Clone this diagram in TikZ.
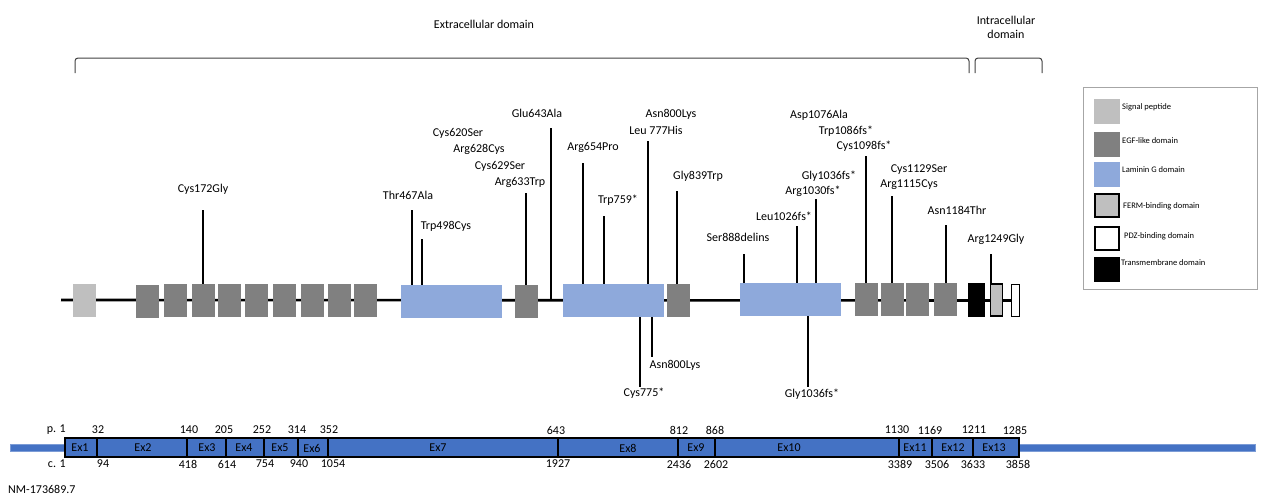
\documentclass[tikz,border=0pt]{standalone}
\usepackage{fontspec}
\setmainfont{Carlito}
\definecolor{sigpep}{HTML}{BFBFBF}
\definecolor{egfgray}{HTML}{808080}
\definecolor{lamblue}{HTML}{8EA9DB}
\definecolor{exonblue}{HTML}{4472C4}
\definecolor{legendline}{HTML}{A6A6A6}
\begin{document}
\begin{tikzpicture}[x=1pt,y=-1pt,
        lbl/.style={font=\fontsize{12}{14}\selectfont,inner sep=0pt},
        leglbl/.style={font=\fontsize{8.5}{10}\selectfont,inner sep=0pt,anchor=west},
        box/.style={rectangle,inner sep=0pt,minimum height=33pt},
        sig/.style={box,fill=sigpep,minimum width=23pt},
        egf/.style={box,fill=egfgray,minimum width=23pt},
        lam/.style={box,fill=lamblue,minimum width=101pt},
        tm/.style={box,fill=black,minimum width=17pt,minimum height=34pt},
        ferm/.style={box,fill=sigpep,draw=black,line width=1.5pt,minimum width=12pt,minimum height=32pt},
        pdz/.style={box,fill=white,draw=black,line width=1.5pt,minimum width=8pt,minimum height=32pt},
        swatch/.style={rectangle,inner sep=0pt,minimum width=26pt,minimum height=25pt},
        stem/.style={line width=1.6pt},
        backbone/.style={line width=2.6pt},
        brace/.style={line width=1pt,draw=black!75,rounded corners=3pt},
        exon/.style={rectangle,inner sep=0pt,fill=exonblue,draw=black,line width=1.3pt,minimum height=19pt},
        utr/.style={rectangle,inner sep=0pt,fill=exonblue,draw=exonblue!70,line width=0.5pt,minimum height=7pt}]
      \useasboundingbox (0,0) rectangle (1262,498);
      % domain brackets
      \draw[brace] (75,73) -- (75,58) -- (969,58) -- (969,73);
      \draw[brace] (975,73) -- (975,58) -- (1042,58) -- (1042,73);
      \node (extra) at (484,24) [lbl] {Extracellular domain};
      \node (intra) at (1006,27) [lbl,align=center] {Intracellular\\domain};
      % protein backbone
      \coordinate (start) at (61,300);
      \node (pdz) at (1015.5,300.5) [pdz] {};
      \draw[backbone] (start) -- (pdz.west);
      \node (sp) at (84.5,300.5) [sig] {};
      \node (e1) at (147.5,301) [egf] {};
      \node (e2) at (175.5,300.5) [egf] {};
      \node (e3) at (203.5,300.5) [egf] {};
      \node (e4) at (229.5,300.5) [egf] {};
      \node (e5) at (256.5,300.5) [egf] {};
      \node (e6) at (284.5,300.5) [egf] {};
      \node (e7) at (312.5,300.5) [egf] {};
      \node (e8) at (339.5,300.5) [egf] {};
      \node (e9) at (365.5,300.5) [egf] {};
      \node (lam1) at (451.5,301.5) [lam] {};
      \node (e10) at (526.5,301.5) [egf] {};
      \node (lam2) at (613.5,300.5) [lam] {};
      \node (e11) at (678.5,300.5) [egf] {};
      \node (lam3) at (790.5,299.5) [lam] {};
      \node (e12) at (866.5,299.5) [egf] {};
      \node (e13) at (892.5,299.5) [egf] {};
      \node (e14) at (917.5,299.5) [egf] {};
      \node (e15) at (945.5,299.5) [egf] {};
      \node (tmd) at (976.5,300) [tm] {};
      \node (ferm) at (996.5,300) [ferm] {};
      % variants above
      \coordinate (s172) at (203,210);
      \coordinate (s467) at (412,210);
      \coordinate (s498) at (422,239);
      \coordinate (s633) at (526,193);
      \coordinate (s643) at (551,128);
      \coordinate (s654) at (583,163);
      \coordinate (s759) at (604,216);
      \coordinate (s777) at (648,141);
      \coordinate (s839) at (677,191);
      \coordinate (s888) at (744,254);
      \coordinate (s1026) at (797,226);
      \coordinate (s1030) at (816,199);
      \coordinate (s1098) at (866,156);
      \coordinate (s1115) at (892,196);
      \coordinate (s1184) at (946,225);
      \coordinate (s1249) at (991,254);
      \draw[stem] (s172) -- (s172 |- e3.north);
      \draw[stem] (s467) -- (s467 |- lam1.north);
      \draw[stem] (s498) -- (s498 |- lam1.north);
      \draw[stem] (s633) -- (s633 |- e10.north);
      \draw[stem] (s643) -- (s643 |- start);
      \draw[stem] (s654) -- (s654 |- lam2.north);
      \draw[stem] (s759) -- (s759 |- lam2.north);
      \draw[stem] (s777) -- (s777 |- lam2.north);
      \draw[stem] (s839) -- (s839 |- e11.north);
      \draw[stem] (s888) -- (s888 |- lam3.north);
      \draw[stem] (s1026) -- (s1026 |- lam3.north);
      \draw[stem] (s1030) -- (s1030 |- lam3.north);
      \draw[stem] (s1098) -- (s1098 |- e12.north);
      \draw[stem] (s1115) -- (s1115 |- e13.north);
      \draw[stem] (s1184) -- (s1184 |- e15.north);
      \draw[stem] (s1249) -- (s1249 |- ferm.north);
      % variants below
      \coordinate (s775) at (640,387);
      \coordinate (s800) at (652,357);
      \coordinate (s1036) at (808,387);
      \draw[stem] (lam2.south -| s775) -- (s775);
      \draw[stem] (lam2.south -| s800) -- (s800);
      \draw[stem] (lam3.south -| s1036) -- (s1036);
      % variant labels
      \node (v172) at (203,189) [lbl] {Cys172Gly};
      \node (v467) at (408,195) [lbl] {Thr467Ala};
      \node (v498) at (446,226) [lbl] {Trp498Cys};
      \node (v620) at (458,133) [lbl] {Cys620Ser};
      \node (v628) at (479,149) [lbl] {Arg628Cys};
      \node (v629) at (500,166) [lbl] {Cys629Ser};
      \node (v633) at (520,182) [lbl] {Arg633Trp};
      \node (v643) at (537,113) [lbl] {Glu643Ala};
      \node (v654) at (593,147) [lbl] {Arg654Pro};
      \node (v759) at (618,200) [lbl] {Trp759*};
      \node (v800a) at (671,114) [lbl] {Asn800Lys};
      \node (v777) at (656,130) [lbl] {Leu 777His};
      \node (v839) at (698,176) [lbl] {Gly839Trp};
      \node (v775) at (644,393) [lbl] {Cys775*};
      \node (v800b) at (675,365) [lbl] {Asn800Lys};
      \node (v888) at (738,237) [lbl] {Ser888delins};
      \node (v1026) at (784,216) [lbl] {Leu1026fs*};
      \node (v1036a) at (829,176) [lbl] {Gly1036fs*};
      \node (v1030) at (813,191) [lbl] {Arg1030fs*};
      \node (v1076) at (819,115) [lbl] {Asp1076Ala};
      \node (v1086) at (846,131) [lbl] {Trp1086fs*};
      \node (v1098) at (864,146) [lbl] {Cys1098fs*};
      \node (v1129) at (919,170) [lbl] {Cys1129Ser};
      \node (v1115) at (909,185) [lbl] {Arg1115Cys};
      \node (v1184) at (957,210) [lbl] {Asn1184Thr};
      \node (v1249) at (996,239) [lbl] {Arg1249Gly};
      \node (v1036b) at (812,394) [lbl] {Gly1036fs*};
      % legend
      \draw[legendline,line width=1pt] (1083,87) rectangle (1257,289);
      \node (lsp) at (1107,111.5) [swatch,fill=sigpep] {};
      \node (legf) at (1107,144.5) [swatch,fill=egfgray] {};
      \node (llam) at (1107,174.5) [swatch,fill=lamblue] {};
      \node (lferm) at (1107,205.5) [swatch,fill=sigpep,draw=black,line width=1.5pt,minimum width=24pt,minimum height=23pt] {};
      \node (lpdz) at (1107,238.5) [swatch,fill=white,draw=black,line width=1.5pt,minimum width=24pt,minimum height=23pt] {};
      \node (ltm) at (1107,269.5) [swatch,fill=black] {};
      \node (tsp) at (1122,107) [leglbl] {Signal peptide};
      \node (tegf) at (1122,141) [leglbl] {EGF-like domain};
      \node (tlam) at (1122,170) [leglbl] {Laminin G domain};
      \node (tferm) at (1123,206) [leglbl] {FERM-binding domain};
      \node (tpdz) at (1124,236) [leglbl] {PDZ-binding domain};
      \node (ttm) at (1121,263) [leglbl] {Transmembrane domain};
      % transcript
      \node (utr5) at (37.5,447.5) [utr,minimum width=55pt] {};
      \node (utr3) at (1137,447.5) [utr,minimum width=236pt] {};
      \node (x1) at (81,447.5) [exon,minimum width=32pt] {};
      \node (x2) at (142,447.5) [exon,minimum width=90pt] {};
      \node (x3) at (206.5,447.5) [exon,minimum width=39pt] {};
      \node (x4) at (245,447.5) [exon,minimum width=38pt] {};
      \node (x5) at (281,447.5) [exon,minimum width=34pt] {};
      \node (x6) at (313,447.5) [exon,minimum width=30pt] {};
      \node (x7) at (443,447.5) [exon,minimum width=230pt] {};
      \node (x8) at (618,447.5) [exon,minimum width=120pt] {};
      \node (x9) at (696.5,447.5) [exon,minimum width=37pt] {};
      \node (x10) at (807,447.5) [exon,minimum width=184pt] {};
      \node (x11) at (915.5,447.5) [exon,minimum width=33pt] {};
      \node (x12) at (952.5,447.5) [exon,minimum width=41pt] {};
      \node (x13) at (996,447.5) [exon,minimum width=46pt] {};
      \node (t1) at (80,448) [lbl] {Ex1};
      \node (t2) at (143,448) [lbl] {Ex2};
      \node (t3) at (207,448) [lbl] {Ex3};
      \node (t4) at (244,448) [lbl] {Ex4};
      \node (t5) at (280,448) [lbl] {Ex5};
      \node (t6) at (312,448) [lbl] {Ex6};
      \node (t7) at (438,448) [lbl] {Ex7};
      \node (t8) at (628,448) [lbl] {Ex8};
      \node (t9) at (696,448) [lbl] {Ex9};
      \node (t10) at (789,448) [lbl] {Ex10};
      \node (t11) at (915,448) [lbl] {Ex11};
      \node (t12) at (953,448) [lbl] {Ex12};
      \node (t13) at (994,448) [lbl] {Ex13};
      % protein positions
      \node (p1) at (66,430) [lbl,anchor=east] {p. 1};
      \node (p32) at (98,430) [lbl] {32};
      \node (p140) at (189,430) [lbl] {140};
      \node (p205) at (224,430) [lbl] {205};
      \node (p252) at (262,430) [lbl] {252};
      \node (p314) at (297,430) [lbl] {314};
      \node (p352) at (329,430) [lbl] {352};
      \node (p643) at (556,430) [lbl] {643};
      \node (p812) at (679,430) [lbl] {812};
      \node (p868) at (715,430) [lbl] {868};
      \node (p1130) at (897,430) [lbl] {1130};
      \node (p1169) at (930,430) [lbl] {1169};
      \node (p1211) at (974,430) [lbl] {1211};
      \node (p1285) at (1015,430) [lbl] {1285};
      % cDNA positions
      \node (c1) at (66,464) [lbl,anchor=east] {c. 1};
      \node (c94) at (103,464) [lbl] {94};
      \node (c418) at (188,464) [lbl] {418};
      \node (c614) at (227,464) [lbl] {614};
      \node (c754) at (265,464) [lbl] {754};
      \node (c940) at (299,464) [lbl] {940};
      \node (c1054) at (333,464) [lbl] {1054};
      \node (c1927) at (558,464) [lbl] {1927};
      \node (c2436) at (679,464) [lbl] {2436};
      \node (c2602) at (716,464) [lbl] {2602};
      \node (c3389) at (900,464) [lbl] {3389};
      \node (c3506) at (937,464) [lbl] {3506};
      \node (c3633) at (973,464) [lbl] {3633};
      \node (c3858) at (1018,464) [lbl] {3858};
      \node (nm) at (8,489) [lbl,anchor=west] {NM-173689.7};
\end{tikzpicture}
\end{document}
